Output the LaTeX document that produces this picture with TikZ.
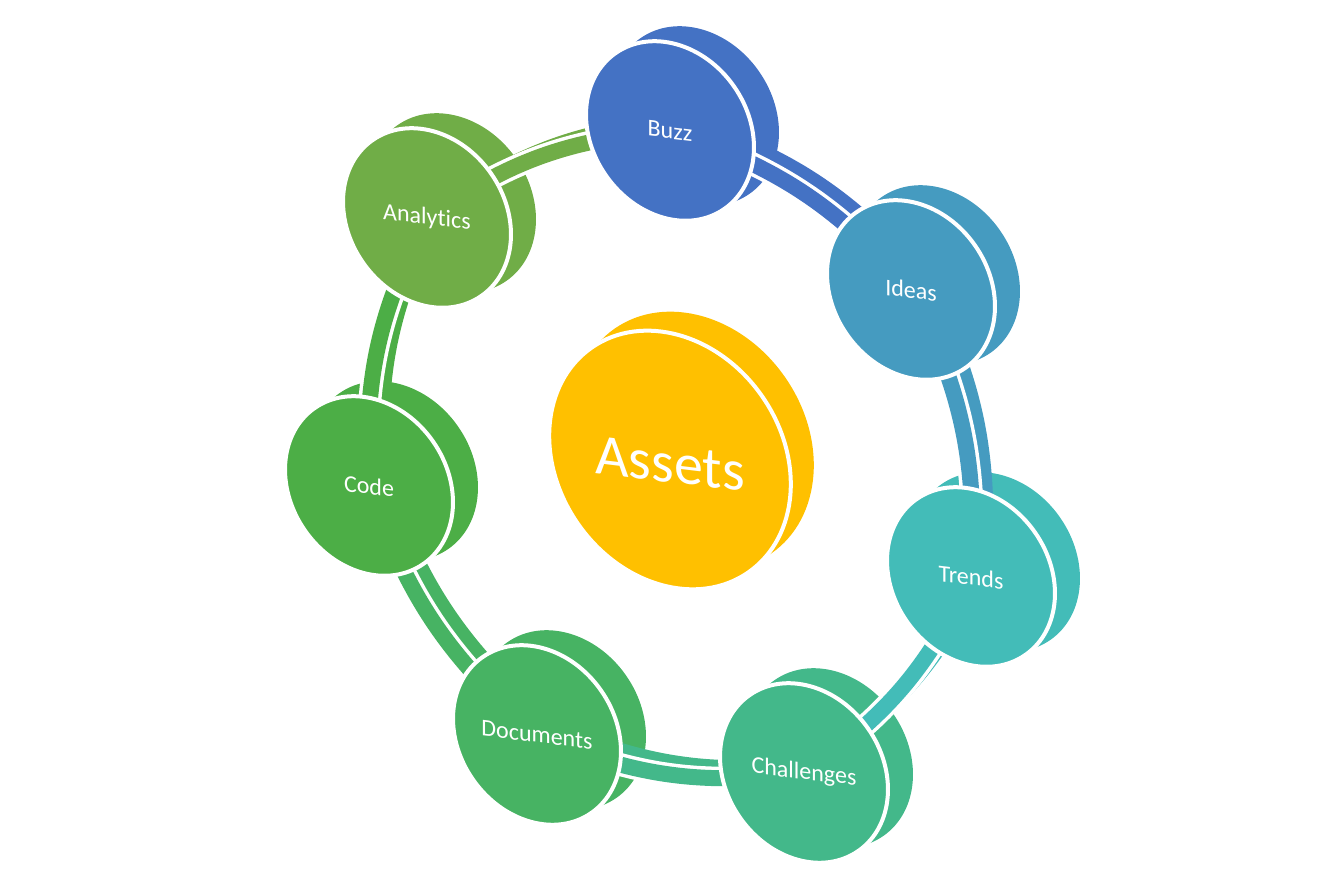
\documentclass[tikz,border=0pt]{standalone}
\usepackage{fontspec}
\setmainfont{Carlito}[Ligatures=NoCommon]
\usetikzlibrary{shapes.geometric}

\pgfdeclarelayer{back}
\pgfdeclarelayer{bands}
\pgfsetlayers{back,bands,main}

\definecolor{cbuzz}{HTML}{4472C4}
\definecolor{cideas}{HTML}{459BC0}
\definecolor{ctrends}{HTML}{43BCB8}
\definecolor{cchallenges}{HTML}{43B88A}
\definecolor{cdocuments}{HTML}{47B363}
\definecolor{ccode}{HTML}{4CAE46}
\definecolor{canalytics}{HTML}{70AD47}
\definecolor{cassets}{HTML}{FFC000}

\tikzset{
  disk/.style={ellipse, draw=white, line width=4pt, inner sep=0pt, minimum width=156pt, minimum height=190pt, rotate=35},
  bigdisk/.style={disk, minimum width=224pt, minimum height=274pt},
  backdisk/.style={ellipse, inner sep=0pt, minimum width=156pt, minimum height=190pt, rotate=35},
  disklabel/.style={inner sep=0pt, text=white, yslant=-0.12, font=\fontsize{24pt}{28pt}\selectfont},
  biglabel/.style={disklabel, font=\fontsize{58pt}{64pt}\selectfont},
  band/.style={line width=16pt}
}

\begin{document}
\begin{tikzpicture}[x=1pt,y=1pt]
  \useasboundingbox (0,0) rectangle (1334,889);
  % centre
  \node[bigdisk, fill=cassets] (assets) at (670,429) {};
  % ring
  \node[disk, fill=cbuzz]       (buzz)       at (670,758) {};
  \node[disk, fill=cideas]      (ideas)      at (911,599) {};
  \node[disk, fill=ctrends]     (trends)     at (971,312) {};
  \node[disk, fill=cchallenges] (challenges) at (804,116) {};
  \node[disk, fill=cdocuments]  (documents)  at (537,154) {};
  \node[disk, fill=ccode]       (code)       at (369,403) {};
  \node[disk, fill=canalytics]  (analytics)  at (427,671) {};

  % labels
  \node[biglabel] (assets-t) at ([yshift=-4]assets.center) {Assets};
  \node[disklabel] (buzz-t)       at (buzz.center)       {Buzz};
  \node[disklabel] (ideas-t)      at (ideas.center)      {Ideas};
  \node[disklabel] (trends-t)     at (trends.center)     {Trends};
  \node[disklabel] (challenges-t) at (challenges.center) {Challenges};
  \node[disklabel] (documents-t)  at (documents.center)  {Documents};
  \node[disklabel] (code-t)       at (code.center)       {Code};
  \node[disklabel] (analytics-t)  at (analytics.center)  {Analytics};

  % back faces
  \begin{pgfonlayer}{back}
    \node[backdisk, minimum width=224pt, minimum height=274pt, fill=cassets] (assets-b) at ([shift={(23,19)}]assets.center) {};
    \foreach \n/\c in {buzz/cbuzz, ideas/cideas, trends/ctrends, challenges/cchallenges, documents/cdocuments, code/ccode, analytics/canalytics}
      \node[backdisk, fill=\c] (\n-b) at ([shift={(25,15)}]\n.center) {};
  \end{pgfonlayer}

  % links round the ring
  \begin{pgfonlayer}{bands}
    \foreach \a/\b/\c in {buzz/ideas/cbuzz, ideas/trends/cideas, trends/challenges/ctrends, challenges/documents/cchallenges, documents/code/cdocuments, code/analytics/ccode, analytics/buzz/canalytics}{
      \draw[band, \c] ([shift={(13,10)}]\a.center) to[bend left=15] ([shift={(13,10)}]\b.center);
      \draw[band, white, line width=23pt] (\a.center) to[bend left=15] (\b.center);
      \draw[band, \c] (\a.center) to[bend left=15] (\b.center);
    }
  \end{pgfonlayer}
\end{tikzpicture}
\end{document}
